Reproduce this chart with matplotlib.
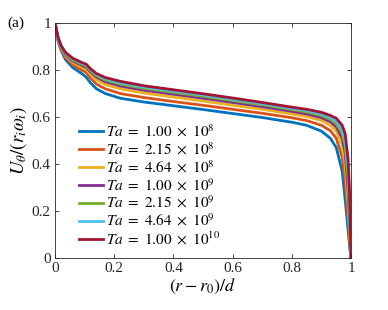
#!/usr/bin/env python3
"""Azimuthal velocity profiles U_theta/(r_i w_i) across the gap, one curve per Taylor number."""
import matplotlib
matplotlib.use("Agg")
import matplotlib.pyplot as plt

plt.rcParams["font.family"] = ["Liberation Serif", "DejaVu Serif"]
plt.rcParams["mathtext.fontset"] = "stix"

# radial position (r - r0)/d
X = [0, 0.01, 0.02, 0.035, 0.06, 0.09, 0.105, 0.12, 0.14, 0.17, 0.22, 0.3, 0.4, 0.5,
     0.6, 0.7, 0.8, 0.85, 0.9, 0.93, 0.95, 0.97, 0.98, 0.99, 0.995, 1.0]

U_1e8 = [1.0, 0.925, 0.885, 0.845, 0.81, 0.785, 0.77, 0.745, 0.72, 0.70, 0.68, 0.664, 0.648,
         0.632, 0.615, 0.598, 0.578, 0.565, 0.54, 0.51, 0.47, 0.37, 0.25, 0.12, 0.05, 0.0]
U_215e8 = [1.0, 0.93, 0.89, 0.855, 0.822, 0.80, 0.79, 0.765, 0.74, 0.72, 0.70, 0.683, 0.666,
           0.65, 0.633, 0.616, 0.597, 0.585, 0.565, 0.542, 0.51, 0.43, 0.33, 0.17, 0.08, 0.0]
U_464e8 = [1.0, 0.935, 0.895, 0.862, 0.832, 0.812, 0.803, 0.782, 0.758, 0.738, 0.72, 0.702, 0.685,
           0.668, 0.65, 0.633, 0.613, 0.602, 0.585, 0.565, 0.54, 0.48, 0.40, 0.23, 0.11, 0.0]
U_1e9 = [1.0, 0.937, 0.898, 0.867, 0.838, 0.82, 0.812, 0.792, 0.77, 0.75, 0.732, 0.714, 0.697,
         0.68, 0.662, 0.644, 0.624, 0.613, 0.597, 0.58, 0.558, 0.51, 0.45, 0.29, 0.15, 0.0]
U_215e9 = [1.0, 0.938, 0.9, 0.87, 0.842, 0.825, 0.818, 0.797, 0.776, 0.757, 0.74, 0.722, 0.705,
           0.688, 0.67, 0.652, 0.632, 0.622, 0.606, 0.59, 0.572, 0.53, 0.48, 0.34, 0.19, 0.0]
U_464e9 = [1.0, 0.939, 0.902, 0.872, 0.846, 0.829, 0.822, 0.801, 0.781, 0.763, 0.746, 0.728, 0.711,
           0.694, 0.676, 0.657, 0.637, 0.628, 0.613, 0.598, 0.582, 0.547, 0.50, 0.38, 0.23, 0.0]
U_1e10 = [1.0, 0.94, 0.905, 0.875, 0.85, 0.832, 0.825, 0.805, 0.785, 0.768, 0.752, 0.733, 0.716,
          0.699, 0.681, 0.662, 0.642, 0.633, 0.62, 0.607, 0.595, 0.565, 0.53, 0.42, 0.28, 0.0]

SERIES = [U_1e8, U_215e8, U_464e8, U_1e9, U_215e9, U_464e9, U_1e10]
LABELS = [r"$Ta\ =\ 1.00\ \times\ 10^{8}$", r"$Ta\ =\ 2.15\ \times\ 10^{8}$",
          r"$Ta\ =\ 4.64\ \times\ 10^{8}$", r"$Ta\ =\ 1.00\ \times\ 10^{9}$",
          r"$Ta\ =\ 2.15\ \times\ 10^{9}$", r"$Ta\ =\ 4.64\ \times\ 10^{9}$",
          r"$Ta\ =\ 1.00\ \times\ 10^{10}$"]
COLORS = ["#0072BD", "#D95319", "#EDB120", "#7E2F8E", "#77AC30", "#4DBEEE", "#A2142F"]

fig = plt.figure(figsize=(3.88, 3.10), dpi=100)
ax = fig.add_axes([0.1418, 0.167, 0.763, 0.759])

for y, lab, c in zip(SERIES, LABELS, COLORS):
    ax.plot(X, y, color=c, lw=2.0, label=lab)

ax.set_xlim(0, 1)
ax.set_ylim(0, 1)
ax.set_xticks([0, 0.2, 0.4, 0.6, 0.8, 1])
ax.set_xticklabels(["0", "0.2", "0.4", "0.6", "0.8", "1"])
ax.set_yticks([0, 0.2, 0.4, 0.6, 0.8, 1])
ax.set_yticklabels(["0", "0.2", "0.4", "0.6", "0.8", "1"])
ax.tick_params(direction="in", top=True, right=True, length=3, width=0.6,
               labelsize=11, colors="#262626", pad=3)
for s in ax.spines.values():
    s.set_linewidth(0.6)
    s.set_color("#262626")

ax.set_xlabel(r"$(r-r_0)/d$", fontsize=13, labelpad=1)
ax.set_ylabel(r"$U_\theta/(r_i\omega_i)$", fontsize=13.5, labelpad=2)
fig.text(0.02, 0.925, "(a)", fontsize=11, va="center", ha="left")

ax.legend(loc="lower left", bbox_to_anchor=(0.045, 0.0), frameon=False, fontsize=11,
          handlelength=1.6, handletextpad=0.15, labelspacing=0.1, borderaxespad=0.3)

fig.savefig("out.png", dpi=100)
